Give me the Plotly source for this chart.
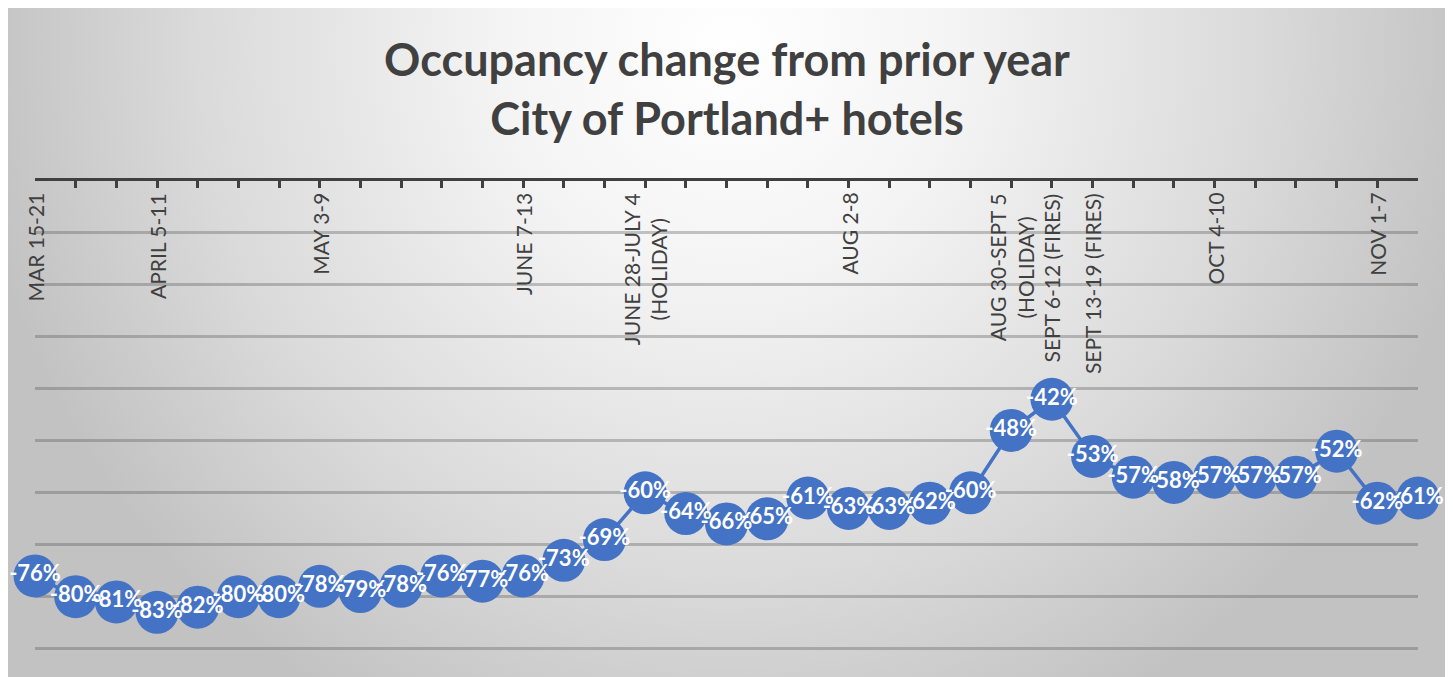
import base64
import plotly.graph_objects as go

# ---- data ----
weeks = [
    "MAR 15-21", "MAR 22-28", "MAR 29-APR 4", "APRIL 5-11", "APR 12-18", "APR 19-25",
    "APR 26-MAY 2", "MAY 3-9", "MAY 10-16", "MAY 17-23", "MAY 24-30", "MAY 31-JUNE 6",
    "JUNE 7-13", "JUNE 14-20", "JUNE 21-27", "JUNE 28-JULY 4", "JULY 5-11", "JULY 12-18",
    "JULY 19-25", "JULY 26-AUG 1", "AUG 2-8", "AUG 9-15", "AUG 16-22", "AUG 23-29",
    "AUG 30-SEPT 5", "SEPT 6-12", "SEPT 13-19", "SEPT 20-26", "SEPT 27-OCT 3", "OCT 4-10",
    "OCT 11-17", "OCT 18-24", "OCT 25-31", "NOV 1-7", "NOV 8-14",
]
occupancy_change = [
    -76, -80, -81, -83, -82, -80, -80, -78, -79, -78, -76, -77, -76, -73, -69,
    -60, -64, -66, -65, -61, -63, -63, -62, -60, -48, -42, -53, -57, -58, -57,
    -57, -57, -52, -62, -61,
]
shown_labels = {
    "MAR 15-21": "MAR 15-21",
    "APRIL 5-11": "APRIL 5-11",
    "MAY 3-9": "MAY 3-9",
    "JUNE 7-13": "JUNE 7-13",
    "JUNE 28-JULY 4": "JUNE 28-JULY 4<br>(HOLIDAY)",
    "AUG 2-8": "AUG 2-8",
    "AUG 30-SEPT 5": "AUG 30-SEPT 5<br>(HOLIDAY)",
    "SEPT 6-12": "SEPT 6-12 (FIRES)",
    "SEPT 13-19": "SEPT 13-19 (FIRES)",
    "OCT 4-10": "OCT 4-10",
    "NOV 1-7": "NOV 1-7",
}
title_lines = ["Occupancy change from prior year", "City of Portland+ hotels"]

BLUE = "#4472C4"
DARK = "#404040"

# page body adds an 8px offset; lay out in figure coordinates
W, H = 1453, 677
ML, MT = 27, 173
MR = W - 1410
MB = H - 642
PW, PH = W - ML - MR, H - MT - MB

# background gradient (chart area) as an svg image
bx0, by0, bx1, by1 = 0, 0, 1439, 677
bw, bh = bx1 - bx0, by1 - by0
svg = f'''<svg xmlns="http://www.w3.org/2000/svg" width="{bw}" height="{bh}" viewBox="0 0 {bw} {bh}" preserveAspectRatio="none">
<defs><radialGradient id="g" gradientUnits="userSpaceOnUse" cx="720" cy="40" r="760">
<stop offset="0" stop-color="#ffffff"/>
<stop offset="0.3" stop-color="#f4f4f4"/>
<stop offset="0.7" stop-color="#dadada"/>
<stop offset="1" stop-color="#c2c2c2"/>
</radialGradient></defs>
<rect x="0" y="0" width="{bw}" height="{bh}" fill="url(#g)"/>
</svg>'''
src = "data:image/svg+xml;base64," + base64.b64encode(svg.encode()).decode()

fig = go.Figure()
fig.add_trace(go.Scatter(
    x=weeks,
    y=occupancy_change,
    mode="lines+markers+text",
    line=dict(color=BLUE, width=3.5),
    marker=dict(size=43, color=BLUE, line=dict(width=0)),
    text=[f"{v}%" for v in occupancy_change],
    textposition="middle center",
    textfont=dict(family="Lato", size=22, color="white", weight="bold"),
    cliponaxis=False,
    hoverinfo="skip",
))

# category labels hanging below the top axis line
annotations = []
for w in weeks:
    if w in shown_labels:
        annotations.append(dict(
            x=w, y=0, xref="x", yref="y",
            text=shown_labels[w],
            textangle=-90,
            xanchor="center", yanchor="top",
            yshift=-10,
            showarrow=False,
            align="center",
            font=dict(family="Lato", size=21, color=DARK),
        ))

fig.update_layout(
    width=W, height=H,
    margin=dict(l=ML, r=MR, t=MT, b=MB, pad=0),
    paper_bgcolor="white",
    plot_bgcolor="rgba(0,0,0,0)",
    showlegend=False,
    title=dict(
        text="<br>".join(title_lines),
        font=dict(family="Lato", size=45, color=DARK, weight="bold"),
        x=(727 - 8) / W, xanchor="center", xref="container",
        y=1 - 68 / H, yanchor="middle", yref="container",
        automargin=False,
    ),
    annotations=annotations,
    images=[dict(
        source=src, xref="paper", yref="paper",
        x=(bx0 - ML) / PW, y=(H - MB - by0) / PH,
        sizex=bw / PW, sizey=bh / PH,
        xanchor="left", yanchor="top",
        sizing="stretch", layer="below",
    )],
    xaxis=dict(
        type="category",
        side="top",
        range=[0, len(weeks) - 1],
        tickmode="array",
        tickvals=weeks,
        showticklabels=False,
        ticks="inside",
        ticklen=7,
        tickwidth=3,
        tickcolor=DARK,
        showline=True,
        linecolor=DARK,
        linewidth=3,
        showgrid=False,
        zeroline=False,
        automargin=False,
        fixedrange=True,
    ),
    yaxis=dict(
        range=[-90.25, 0],
        dtick=10,
        showticklabels=False,
        ticks="",
        showgrid=True,
        gridcolor="rgba(70,70,70,0.3)",
        gridwidth=2.5,
        zeroline=False,
        showline=False,
        automargin=False,
        fixedrange=True,
    ),
)

fig.write_html("out.html")
